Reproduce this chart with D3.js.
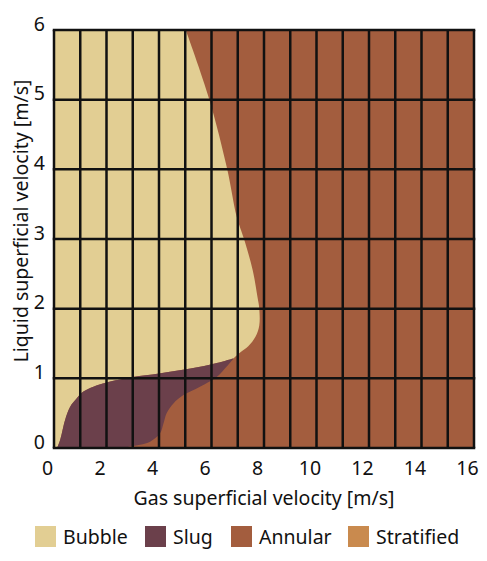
<!DOCTYPE html>
<html>
<head>
<meta charset="utf-8">
<script src="https://cdn.jsdelivr.net/npm/d3@7"></script>
<style>
  body { margin: 0; background: #fff; }
  svg text { font-family: "Noto Sans", "Open Sans", sans-serif; fill: #111; }
</style>
</head>
<body>
<div id="chart"></div>
<script>
// Regime names and colours
const regimes = ['Bubble', 'Slug', 'Annular', 'Stratified'];
const regimeColors = ['#e2ce93', '#6b404b', '#a35d3e', '#c98a4e'];

// Axis ticks
const xTicks = [0, 2, 4, 6, 8, 10, 12, 14, 16];
const yTicks = [0, 1, 2, 3, 4, 5, 6];
const xGrid = d3.range(0, 17);   // a line every 1 m/s
const yGrid = d3.range(0, 7);

const bubbleSlug = [
    [0.12, 0], [0.23, 0.11], [0.42, 0.4], [0.61, 0.59], [0.86, 0.71], [1.12, 0.81],
    [1.5, 0.88], [2.0, 0.94], [3.0, 1.02], [4.0, 1.07], [5.2, 1.14], [6.2, 1.22], [6.85, 1.29]
];
const bubbleAnnular = [
    [6.85, 1.29], [7.09, 1.37], [7.4, 1.46], [7.68, 1.6], [7.82, 1.76], [7.82, 2.0],
    [7.75, 2.17], [7.57, 2.55], [7.24, 3.0], [6.96, 3.32], [6.6, 4.0], [5.92, 5.0], [5.02, 6.0]
];
const slugAnnular = [
    [6.85, 1.29], [6.58, 1.17], [6.2, 1.02], [5.56, 0.88], [4.93, 0.76], [4.55, 0.64],
    [4.29, 0.5], [4.17, 0.35], [4.04, 0.21], [3.66, 0.09], [2.9, 0.02], [2.6, 0]
];

const width = 487, height = 561;
const margin = { top: 30, right: 13, bottom: 113, left: 54 };
const innerWidth = width - margin.left - margin.right;
const innerHeight = height - margin.top - margin.bottom;

const svg = d3.select('#chart')
    .append('svg')
    .attr('width', width)
    .attr('height', height);

const g = svg.append('g')
    .attr('transform', `translate(${margin.left},${margin.top})`);

const x = d3.scaleLinear().domain([0, 16]).range([0, innerWidth]);
const y = d3.scaleLinear().domain([0, 6]).range([innerHeight, 0]);

const curve = d3.line()
    .x(d => x(d[0]))
    .y(d => y(d[1]))
    .curve(d3.curveCatmullRom.alpha(0.5));

// Annular fills everything, the other regimes are laid on top
g.append('rect')
    .attr('x', x(0)).attr('y', y(6))
    .attr('width', x(16) - x(0))
    .attr('height', y(0) - y(6))
    .attr('fill', regimeColors[2]);

// Bubble: left edge, then the slug boundary, then the annular boundary
const bubblePath = `M${x(0)},${y(6)}L${x(0)},${y(0)}`
    + curve(bubbleSlug).replace(/^M/, 'L')
    + curve(bubbleAnnular).replace(/^M/, 'L')
    + 'Z';
g.append('path').attr('d', bubblePath).attr('fill', regimeColors[0]);

// Slug: up along the bubble boundary, back down along the annular one
const slugPath = curve(bubbleSlug)
    + curve(slugAnnular).replace(/^M/, 'L')
    + 'Z';
g.append('path').attr('d', slugPath).attr('fill', regimeColors[1]);

// Grid
g.selectAll('.vgrid')
    .data(xGrid)
    .join('line')
    .attr('x1', d => x(d)).attr('x2', d => x(d))
    .attr('y1', y(0)).attr('y2', y(6))
    .attr('stroke', '#111')
    .attr('stroke-width', 2.5);

g.selectAll('.hgrid')
    .data(yGrid)
    .join('line')
    .attr('x1', x(0) - 1.25).attr('x2', x(16) + 1.25)
    .attr('y1', d => y(d)).attr('y2', d => y(d))
    .attr('stroke', '#111')
    .attr('stroke-width', 2.5);

// Axes (labels sit a little up/left of their lines, as in the original)
const xAxis = g.append('g')
    .attr('transform', `translate(0,${innerHeight})`)
    .call(d3.axisBottom(x).tickValues(xTicks).tickFormat(d3.format('d'))
        .tickSize(0).tickPadding(13))
    .attr('font-size', 19.5)
    .attr('font-family', '"Noto Sans", sans-serif');
xAxis.select('.domain').remove();
xAxis.selectAll('text')
    .attr('dx', -7)
    .attr('fill', '#111');

const yAxis = g.append('g')
    .call(d3.axisLeft(y).tickValues(yTicks).tickFormat(d3.format('d'))
        .tickSize(0).tickPadding(9))
    .attr('font-size', 19.5)
    .attr('font-family', '"Noto Sans", sans-serif');
yAxis.select('.domain').remove();
yAxis.selectAll('text')
    .attr('dy', '0.32em')
    .attr('y', -6)
    .attr('fill', '#111');

// Axis titles
svg.append('text')
    .attr('x', margin.left + innerWidth / 2)
    .attr('y', 505)
    .attr('text-anchor', 'middle')
    .style('font-size', '19.5px')
    .text('Gas superficial velocity [m/s]');

svg.append('text')
    .attr('transform', 'rotate(-90)')
    .attr('x', -221)
    .attr('y', 28)
    .attr('text-anchor', 'middle')
    .style('font-size', '19.5px')
    .text('Liquid superficial velocity [m/s]');

// Legend
const legendX = [35, 145, 231, 348];
const legend = svg.append('g');
regimes.forEach((name, i) => {
    legend.append('rect')
        .attr('x', legendX[i]).attr('y', 526)
        .attr('width', 21).attr('height', 21)
        .attr('fill', regimeColors[i]);
    legend.append('text')
        .attr('x', legendX[i] + 28).attr('y', 544)
        .style('font-size', '19.5px')
        .text(name);
});
</script>
</body>
</html>
